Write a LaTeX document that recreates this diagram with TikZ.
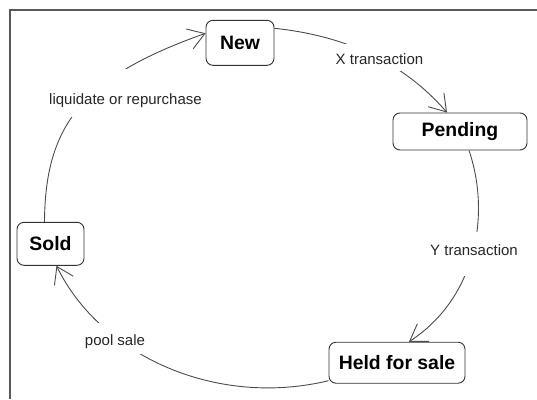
\documentclass[tikz,border=0pt]{standalone}
\usepackage{fontspec}
\setmainfont{Liberation Sans}
\usetikzlibrary{arrows.meta,calc}
\begin{document}
\begin{tikzpicture}[x=1pt,y=-1pt,
  statebox/.style={draw=black!80, line width=0.9pt, rounded corners=7pt, fill=white,
    inner sep=0pt, align=center, font=\fontsize{19.4}{22}\selectfont\bfseries},
  conn/.style={draw=black!70, line width=0.9pt},
  arr/.style={conn, -{Straight Barb[length=16pt,width=21pt,line width=0.9pt]}},
  lbl/.style={fill=white, inner xsep=2pt, inner ysep=0pt, anchor=base,
    text=black!85, font=\fontsize{15}{17}\selectfont},
  frame/.style={draw=black!65, line width=2pt}]
\useasboundingbox (0,0) rectangle (537,399);
\fill[white] (0,0) rectangle (537,399);
% frame (only top and left edges are visible)
\coordinate (ftl) at (9.5,9.5);
\coordinate (ftr) at (537,9.5);
\coordinate (fbl) at (9.5,399);
\draw[frame] (ftr) -- (ftl) -- (fbl);
% states
\node[statebox, minimum width=68pt, minimum height=45pt] (new) at (240,42.8) {New};
\node[statebox, minimum width=134pt, minimum height=37pt] (pend) at (460,131.5) {Pending};
\node[statebox, minimum width=67pt, minimum height=43pt] (sold) at (50.5,243.8) {Sold};
\node[statebox, minimum width=136pt, minimum height=41pt] (held) at (397,362.7) {Held for sale};
% transitions
\draw[arr] ([yshift=14.5pt]new.east) .. controls (348,36) and (405,64) .. ([xshift=-13pt]pend.north);
\draw[arr] ([xshift=9pt]pend.south) .. controls (491,215) and (476,298) .. ([xshift=12pt]held.north);
\draw[arr] ([yshift=-18pt]held.west) .. controls (215,408) and (100,355) .. ([xshift=6pt]sold.south);
\draw[arr] ([xshift=-6pt]sold.north) .. controls (45,123) and (85,76) .. ([yshift=9.5pt]new.west);
% labels
\node[lbl, text height=19.7pt, text depth=7pt] (lx) at (379.5,64) {X transaction};
\node[lbl, text height=23.3pt, text depth=21pt] (ly) at (474,255) {Y transaction};
\node[lbl, text height=23pt, text depth=8.6pt] (lp) at (115,345.7) {pool sale};
\node[lbl, text height=34.7pt, text depth=13.3pt] (ll) at (125.5,104) {liquidate or repurchase};
\end{tikzpicture}
\end{document}
